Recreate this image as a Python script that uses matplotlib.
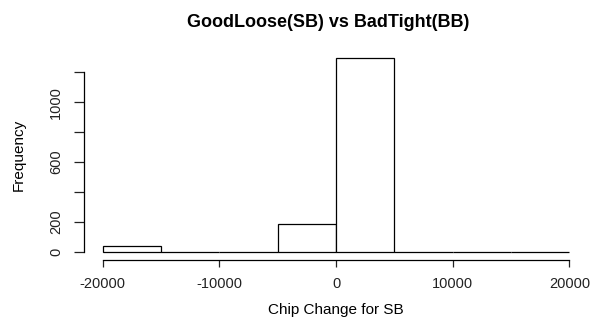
import numpy as np
import matplotlib.pyplot as plt

plt.rcParams['font.family'] = ['Liberation Sans', 'DejaVu Sans']

bin_edges = [-20000, -15000, -10000, -5000, 0, 5000, 10000, 15000, 20000]
counts = [40, 0, 0, 183, 1294, 0, 0, 0]
x_ticks = [-20000, -10000, 0, 10000, 20000]
y_ticks = [0, 200, 400, 600, 800, 1000, 1200]
y_labels = ['0', '200', '', '600', '', '1000', '']

fig = plt.figure(figsize=(5.92, 3.2), dpi=100)
ax = fig.add_axes([0.1419, 0.189, 0.8514, 0.6525])

lefts = np.array(bin_edges[:-1])
widths = np.diff(bin_edges)
ax.bar(lefts, counts, width=widths, align='edge', facecolor='white',
       edgecolor='black', linewidth=0.9)

top = max(counts)
ax.set_xlim(-21600, 21600)
ax.set_ylim(-0.04 * top, 1.04 * top)

for s in ['top', 'right']:
    ax.spines[s].set_visible(False)
ax.spines['bottom'].set_bounds(-20000, 20000)
ax.spines['left'].set_bounds(0, 1200)
ax.spines['bottom'].set_linewidth(0.9)
ax.spines['left'].set_linewidth(0.9)

ax.set_xticks(x_ticks)
ax.set_xticklabels([str(t) for t in x_ticks])
ax.set_yticks(y_ticks)
ax.set_yticklabels(y_labels, rotation=90, va='center')
ax.tick_params(axis='both', width=0.9, labelsize=10.5, colors='#222222')
ax.tick_params(axis='x', length=5, pad=7.5)
ax.tick_params(axis='y', length=7, pad=8)

ax.set_title('GoodLoose(SB) vs BadTight(BB)', fontsize=13, fontweight='bold',
             pad=17, x=0.485)
ax.set_xlabel('Chip Change for SB', fontsize=11, labelpad=9)
ax.set_ylabel('Frequency', fontsize=11, labelpad=17)

fig.savefig('out.png', dpi=100)
